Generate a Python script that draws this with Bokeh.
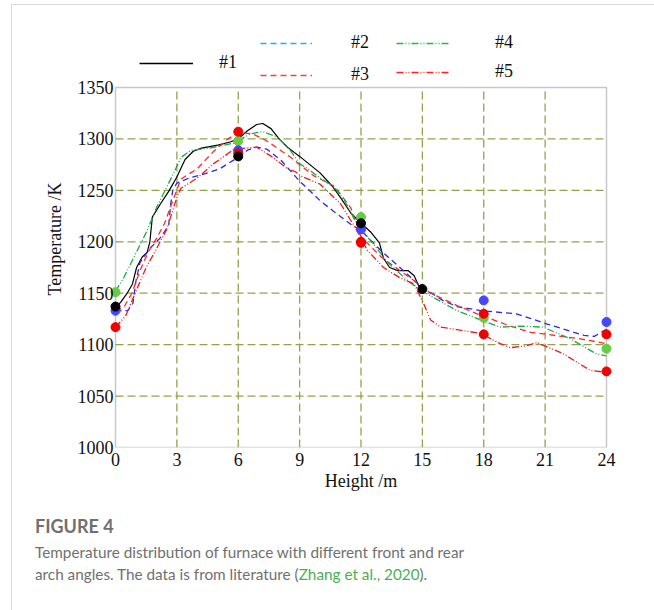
import math
from bokeh.plotting import figure
from bokeh.models import Legend, LegendItem, Div, FixedTicker, BoxAnnotation
from bokeh.layouts import column
from bokeh.embed import file_html
from bokeh.resources import INLINE

# ---------------- data ----------------
x_ticks = [0, 3, 6, 9, 12, 15, 18, 21, 24]
y_ticks = [1000, 1050, 1100, 1150, 1200, 1250, 1300, 1350]

c1_x = [0, 0.25, 0.57, 0.83, 1.03, 1.3, 1.55, 1.68, 1.8, 2.2, 2.6, 3.0, 3.4, 3.8, 4.2, 5.0, 5.6, 6.0, 6.45, 6.9, 7.2, 7.6, 8.0, 8.4, 9.0, 9.5, 10.0, 10.6, 11.0, 11.5, 12.0, 12.5, 12.9, 13.1, 13.4, 13.8, 14.3, 14.6, 14.8, 15.0]
c1_y = [1137, 1141, 1150, 1159, 1175, 1185, 1190, 1200, 1224, 1237, 1249, 1263, 1280, 1288, 1291, 1294, 1297, 1300, 1308, 1314, 1315, 1310, 1300, 1292, 1283, 1275, 1267, 1254, 1243, 1228, 1218, 1209, 1199, 1184, 1175, 1172, 1172, 1167, 1158, 1154]

c2_x = [0, 0.6, 0.85, 1.0, 1.2, 1.7, 2.2, 2.6, 2.7, 2.8, 3.0, 3.6, 4.2, 5.1, 5.9, 6.45, 6.9, 7.4, 8.1, 9.0, 10.0, 10.7, 11.5, 12.0, 13.0, 13.9, 14.9, 16.0, 16.7, 17.85, 19.6, 21.1, 22.9, 23.4, 24.0]
c2_y = [1133, 1133, 1140, 1162, 1180, 1194, 1204, 1216, 1237, 1250, 1257, 1262, 1265, 1271, 1281, 1289, 1292, 1290, 1279, 1259, 1240, 1229, 1217, 1211, 1191, 1175, 1157, 1143, 1137, 1133, 1130, 1120, 1109, 1108, 1115]

c3_x = [0, 0.4, 0.8, 1.2, 1.6, 2.0, 2.4, 2.8, 3.2, 4.0, 4.8, 5.5, 6.0, 6.7, 7.4, 8.5, 9.0, 9.7, 10.7, 11.5, 12.0, 13.0, 13.9, 14.9, 15.4, 16.7, 17.8, 19.3, 20.3, 22.6, 24.0]
c3_y = [1133, 1136, 1150, 1172, 1190, 1203, 1218, 1240, 1261, 1271, 1288, 1300, 1306, 1305, 1298, 1283, 1275, 1264, 1254, 1233, 1205, 1185, 1172, 1158, 1150, 1138, 1129, 1118, 1112, 1106, 1101]

c4_x = [0, 0.4, 0.9, 1.55, 2.0, 2.5, 2.85, 3.2, 3.7, 4.6, 5.8, 6.6, 7.2, 7.9, 8.5, 9.0, 9.4, 10.0, 10.7, 11.2, 11.7, 12.0, 12.6, 13.3, 14.3, 14.9, 16.7, 17.85, 18.8, 19.8, 20.9, 22.2, 23.5, 24.0]
c4_y = [1152, 1165, 1185, 1211, 1233, 1253, 1267, 1282, 1289, 1291, 1296, 1305, 1307, 1302, 1290, 1276, 1271, 1262, 1253, 1240, 1221, 1212, 1198, 1180, 1162, 1153, 1133, 1124, 1117, 1118, 1117, 1106, 1091, 1089]

c5_x = [0, 0.5, 1.0, 1.5, 2.0, 2.5, 3.0, 3.2, 4.0, 4.8, 5.8, 6.9, 7.7, 8.4, 8.8, 9.05, 10.0, 11.0, 11.8, 12.3, 13.1, 13.9, 14.6, 15.06, 15.4, 15.9, 17.85, 18.7, 19.3, 20.1, 20.6, 21.9, 23.2, 24.0]
c5_y = [1117, 1128, 1152, 1175, 1193, 1212, 1243, 1252, 1262, 1276, 1290, 1292, 1282, 1271, 1268, 1264, 1256, 1237, 1211, 1192, 1175, 1165, 1159, 1140, 1124, 1117, 1111, 1102, 1097, 1099, 1102, 1091, 1075, 1073]

# measured points
p1_x = [0, 6, 12, 15]
p1_y = [1137, 1283, 1218, 1154]
p2_x = [0, 6, 12, 18, 24]
p2_y = [1133, 1289, 1212, 1143, 1122]
p3_x = [6, 12, 18, 24]
p3_y = [1307, 1200, 1130, 1110]
p4_x = [0, 6, 12, 18, 24]
p4_y = [1151, 1298, 1224, 1126, 1096]
p5_x = [0, 6, 12, 18, 24]
p5_y = [1117, 1286, 1199, 1110, 1074]

names = ["#1", "#2", "#3", "#4", "#5"]

# ---------------- styles ----------------
SERIF = "Liberation Serif"
GRID = "#93a24e"
AX = "#4a4a4a"
curve_col = ["#000000", "#2a2ae6", "#ff2a2a", "#1fa84a", "#ee1c1c"]
curve_dash = ["solid", "6 4", "6 4", "7 2 1 2 1 2", "7 2 1 2 1 2"]
pt_col = ["#000000", "#4646ff", "#f00000", "#66cc44", "#f00000"]
leg_col = ["#000000", "#18b0ff", "#ff3c3c", "#18c040", "#ff2020"]

XMIN, XMAX = x_ticks[0], x_ticks[-1]
YMIN, YMAX = y_ticks[0], y_ticks[-1]
XPAD = 0.44          # room so that end markers are not clipped
YTOP = 1405.4        # room above the box for the legend

p = figure(frame_width=509, frame_height=417,
           min_border_left=94, min_border_right=37,
           min_border_top=25, min_border_bottom=48,
           x_range=(XMIN - XPAD, XMAX + XPAD), y_range=(YMIN, YTOP),
           output_backend="svg", toolbar_location=None,
           background_fill_color="white", border_fill_color="white")

p.outline_line_color = None
p.xgrid.visible = False
p.ygrid.visible = False

for ax in (p.xaxis[0], p.yaxis[0]):
    ax.axis_line_color = None
    ax.major_tick_line_color = None
    ax.minor_tick_line_color = None
    ax.major_tick_out = 0
    ax.major_tick_in = 0
    ax.major_label_text_font = SERIF
    ax.major_label_text_font_size = "18px"
    ax.major_label_text_color = "#111111"
    ax.axis_label_text_font = SERIF
    ax.axis_label_text_font_size = "18px"
    ax.axis_label_text_font_style = "normal"
    ax.axis_label_text_color = "#111111"

p.xaxis.ticker = FixedTicker(ticks=x_ticks)
p.yaxis.ticker = FixedTicker(ticks=y_ticks)
p.xaxis.bounds = (XMIN, XMAX)
p.yaxis.bounds = (YMIN, YMAX)
p.xaxis.axis_label = "Height /m"
p.yaxis.axis_label = "Temperature /K"
p.xaxis.major_label_standoff = 5
p.yaxis.major_label_standoff = -7
p.xaxis.axis_label_standoff = 2
p.yaxis.axis_label_standoff = 10

# dashed grid, limited to the box
gx = x_ticks[1:-1]
gy = y_ticks[1:-1]
p.segment(x0=gx, y0=[YMIN] * len(gx), x1=gx, y1=[YMAX] * len(gx),
          line_color=GRID, line_width=1.3, line_dash="8 4")
p.segment(x0=[XMIN] * len(gy), y0=gy, x1=[XMAX] * len(gy), y1=gy,
          line_color=GRID, line_width=1.3, line_dash="8 4")

curves = [(c1_x, c1_y), (c2_x, c2_y), (c3_x, c3_y), (c4_x, c4_y), (c5_x, c5_y)]
points = [(p1_x, p1_y), (p2_x, p2_y), (p3_x, p3_y), (p4_x, p4_y), (p5_x, p5_y)]

for i, (cx, cy) in enumerate(curves):
    p.line(cx, cy, line_color=curve_col[i], line_width=1.3 if i else 1.2,
           line_dash=curve_dash[i])

# box around the data area
p.add_layout(BoxAnnotation(left=XMIN, right=XMAX, bottom=YMIN, top=YMAX,
                           fill_alpha=0, line_color=AX, line_width=1.5,
                           level="underlay"))

for i in [3, 1, 2, 4, 0]:
    px, py = points[i]
    p.scatter(px, py, size=9, fill_color=pt_col[i], line_color=pt_col[i])

# legend (separate entries laid out like the reference)
leg_layout = [  # (x offset, bottom y from frame bottom, glyph width, standoff)
    (33, 374, 54, 26),
    (154, 394, 52, 39),
    (154, 362, 52, 39),
    (290, 394, 54, 45),
    (290, 365, 54, 45),
]
for i, name in enumerate(names):
    r = p.line([math.nan], [math.nan], line_color=leg_col[i], line_width=1.3,
               line_dash=curve_dash[i])
    lx, ly, gw, so = leg_layout[i]
    lg = Legend(items=[LegendItem(label=name, renderers=[r])],
                location=(lx, ly), margin=0, padding=0,
                glyph_width=gw, glyph_height=20, label_height=20,
                label_standoff=so, label_text_font=SERIF,
                label_text_font_size="18px", label_text_color="#111111",
                border_line_alpha=0, background_fill_alpha=0,
                click_policy="none")
    p.add_layout(lg, "center")

caption = Div(text=(
    '<div style="font-family:Lato,sans-serif;color:#707070;">'
    '<div style="font-size:18px;font-weight:700;line-height:28px;margin-bottom:1px;">FIGURE 4</div>'
    '<div style="font-size:15.3px;font-weight:400;line-height:22px;">'
    'Temperature distribution of furnace with different front and rear<br>'
    'arch angles. The data is from literature '
    '(<span style="color:#4caf50;">Zhang et al., 2020</span>).</div></div>'),
    width=640, height=110,
    styles={"padding-left": "18px", "padding-top": "12px", "box-sizing": "border-box"})

layout = column(p, caption,
                styles={"border": "1px solid #d8d8d8", "border-bottom": "none",
                        "margin": "4px 0 0 11px"})

open("out.html", "w").write(file_html(layout, INLINE))
